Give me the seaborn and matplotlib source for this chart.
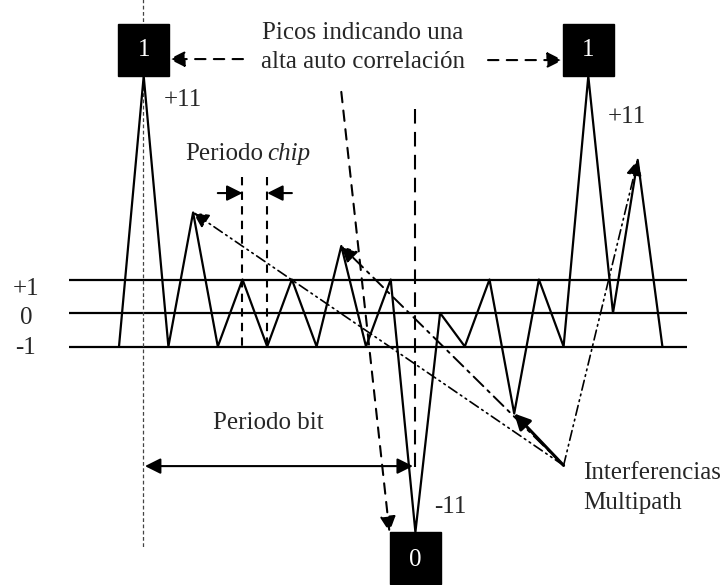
import matplotlib
matplotlib.use("Agg")
import matplotlib.pyplot as plt
from matplotlib.patches import Rectangle
import pandas as pd
import seaborn as sns

# autocorrelación del código (niveles de dibujo, no a escala)
chip = list(range(23))
nivel = [-1, 7.07, -1, 3, -1, 1, -1, 1, -1, 2, -1, 1, -6.54, 0,
         -1, 1, -3, 1, -1, 7.07, 0, 4.57, -1]
niveles_ref = [1, 0, -1]
etiquetas_ref = ["+1", "0", "-1"]
picos = [1, 19]          # picos de alta autocorrelación
valle = 12               # pico negativo
bits_pico = ["1", "1"]
bit_valle = "0"
etiq_pico = "+11"
etiq_valle = "-11"
multipath = [3, 9, 16, 21]   # puntos alcanzados por las interferencias

sns.set_style("white")
plt.rcParams['font.family'] = ['Liberation Serif', 'DejaVu Serif']
FS = 18
CAB = '-|>,head_length=0.45,head_width=0.225'

fig = plt.figure(figsize=(7.22, 5.85), dpi=100)
ax = fig.add_axes([0, 0, 1, 1])
ax.set_xlim(-119 / 24.7, (722 - 119) / 24.7)
ax.set_ylim((313 - 585) / 33.5, 313 / 33.5)
ax.axis('off')

# líneas de referencia +1 / 0 / -1
ax.hlines(niveles_ref, -2.02, 23.0, color='black', lw=1.6)
for lv, t, dy in zip(niveles_ref, etiquetas_ref, [0.27, 0.15, 0.05]):
    ax.text(-3.77, lv - dy, t, fontsize=FS, ha='center', va='center')

# señal
df = pd.DataFrame({'chip': chip, 'nivel': nivel})
sns.lineplot(data=df, x='chip', y='nivel', sort=False, estimator=None,
             color='black', lw=1.6, ax=ax, zorder=3)

# línea punteada del primer pico
ax.plot([chip[picos[0]] - 0.03] * 2, [9.4, -7.01], color='#444444', lw=0.9,
        dashes=(3, 2), zorder=2)

# cajas con los bits
bw, bh = 2.06, 1.55
for p, b in zip(picos, bits_pico):
    ax.add_patch(Rectangle((chip[p] - bw / 2, nivel[p]), bw, bh, color='black', zorder=5))
    ax.text(chip[p], nivel[p] + bh / 2, b, color='white', fontsize=FS,
            ha='center', va='center', zorder=6)
ax.add_patch(Rectangle((chip[valle] - bw / 2, nivel[valle] - bh), bw, bh,
                       color='black', zorder=5))
ax.text(chip[valle], nivel[valle] - bh / 2 - 0.05, bit_valle, color='white',
        fontsize=FS, ha='center', va='center', zorder=6)

ax.text(2.59, 6.36, etiq_pico, fontsize=FS, ha='center', va='center')
ax.text(20.57, 5.85, etiq_pico, fontsize=FS, ha='center', va='center')
ax.text(13.4, -5.79, etiq_valle, fontsize=FS, ha='center', va='center')

# texto de picos y flechas
ax.text(9.88, 8.36, "Picos indicando una", fontsize=FS, ha='center', va='center')
ax.text(9.88, 7.50, "alta auto correlación", fontsize=FS, ha='center', va='center')
dash_ap = dict(arrowstyle=CAB, mutation_scale=21, color='black', lw=1.5,
               linestyle=(0, (5, 4)), shrinkA=0, shrinkB=0)
ax.annotate('', xy=(chip[picos[0]] + bw / 2, 7.58), xytext=(5.02, 7.58), arrowprops=dash_ap)
ax.annotate('', xy=(chip[picos[1]] - bw / 2, 7.55), xytext=(14.94, 7.55), arrowprops=dash_ap)
ax.annotate('', xy=(chip[valle] - bw / 2 - 0.02, nivel[valle]), xytext=(9.0, 6.6),
            arrowprops=dash_ap)
ax.plot([chip[valle]] * 2, [6.09, -4.6], color='black', lw=1.5, dashes=(7, 4), zorder=2)

# periodo chip
ax.text(2.67, 4.57, "Periodo", fontsize=FS, ha='left', va='baseline')
ax.text(5.99, 4.57, "chip", fontsize=FS, ha='left', va='baseline', style='italic')
solid_ap = dict(arrowstyle=CAB, mutation_scale=21, color='black', lw=1.5,
                shrinkA=0, shrinkB=0)
ax.annotate('', xy=(5, 3.58), xytext=(4.0, 3.58), arrowprops=solid_ap)
ax.annotate('', xy=(6, 3.58), xytext=(7.0, 3.58), arrowprops=solid_ap)
for c in [5, 6]:
    ax.plot([c, c], [4.06, -1], color='black', lw=1.5, dashes=(4, 3), zorder=2)

# periodo bit
ax.text(6.03, -3.28, "Periodo bit", fontsize=FS, ha='center', va='center')
ax.annotate('', xy=(chip[picos[0]] + 0.05, -4.57), xytext=(11.9, -4.57),
            arrowprops=dict(arrowstyle='<|-|>,head_length=0.45,head_width=0.225',
                            mutation_scale=21, color='black', lw=1.5,
                            shrinkA=0, shrinkB=0))

# interferencias multipath
esq = (18, -4.55)
estilos = [(0, (6, 2.5, 1, 2.5, 1, 2.5)), (0, (7, 3, 1.5, 3)), '-', (0, (6, 2.5, 1, 2.5, 1, 2.5))]
grosor = [1.2, 1.4, 2.2, 1.2]
for k, ls, w in zip(multipath, estilos, grosor):
    ax.annotate('', xy=(chip[k], nivel[k]), xytext=esq,
                arrowprops=dict(arrowstyle=CAB, mutation_scale=21, color='black',
                                lw=w, linestyle=ls, shrinkA=0, shrinkB=0))
ax.text(18.79, -4.78, "Interferencias", fontsize=FS, ha='left', va='center')
ax.text(18.79, -5.67, "Multipath", fontsize=FS, ha='left', va='center')

fig.savefig("out.png", dpi=100)
